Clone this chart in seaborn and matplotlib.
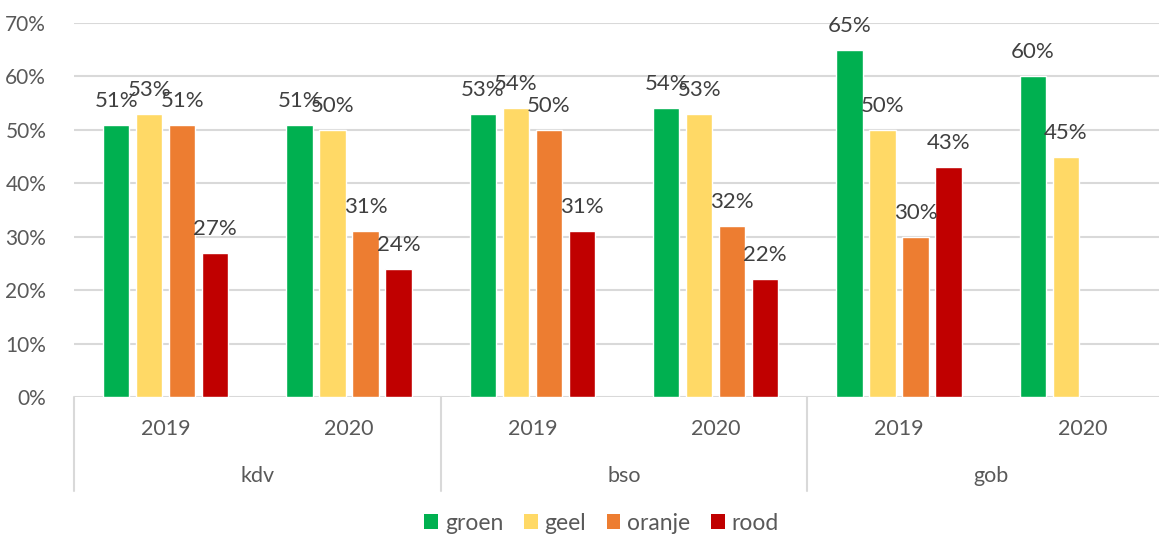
import numpy as np
import pandas as pd
import matplotlib
matplotlib.use("Agg")
import matplotlib.pyplot as plt
import matplotlib.transforms as mtransforms
from matplotlib.patches import Patch
import seaborn as sns

# ---- data ----
groups = ["kdv", "kdv", "bso", "bso", "gob", "gob"]
years = ["2019", "2020", "2019", "2020", "2019", "2020"]
series = ["groen", "geel", "oranje", "rood"]
groen = [0.51, 0.51, 0.53, 0.54, 0.65, 0.60]
geel = [0.53, 0.50, 0.54, 0.53, 0.50, 0.45]
oranje = [0.51, 0.31, 0.50, 0.32, 0.30, np.nan]
rood = [0.27, 0.24, 0.31, 0.22, 0.43, np.nan]
colors = {"groen": "#00B050", "geel": "#FFD966", "oranje": "#ED7D31", "rood": "#C00000"}

cats = [f"{g} {y}" for g, y in zip(groups, years)]
rows = []
for name, vals in zip(series, [groen, geel, oranje, rood]):
    for c, v in zip(cats, vals):
        rows.append({"cat": c, "kleur": name, "waarde": v})
df = pd.DataFrame(rows)

sns.set_theme(style="white")
plt.rcParams["font.family"] = ["Lato", "DejaVu Sans"]

fig = plt.figure(figsize=(11.59, 5.37), dpi=100)
ax = fig.add_axes([74 / 1159, 140 / 537, 1100 / 1159, 374 / 537])

sns.barplot(data=df, x="cat", y="waarde", hue="kleur", order=cats,
            hue_order=series, palette=colors, width=0.72, gap=0.21,
            errorbar=None, ax=ax, saturation=1, legend=False)

ax.set_xlim(-0.5, len(cats) - 0.5)
ax.set_ylim(0, 0.7)
ax.set_yticks(np.arange(0, 0.71, 0.1))
ax.set_yticklabels([f"{int(round(t * 100))}%" for t in np.arange(0, 0.71, 0.1)])
ax.tick_params(axis="y", length=0, pad=20, labelsize=15, labelcolor="#595959")
ax.set_xticks([])
ax.set_xlabel("")
ax.set_ylabel("")
ax.grid(axis="y", color="#D9D9D9", linewidth=1.5)
ax.set_axisbelow(True)
for s in ax.spines.values():
    s.set_visible(False)

# data labels
for cont in ax.containers:
    for bar in cont:
        h = bar.get_height()
        if np.isfinite(h) and h > 0:
            ax.annotate(f"{int(round(h * 100))}%",
                        (bar.get_x() + bar.get_width() / 2, h),
                        xytext=(0, 24), textcoords="offset pixels",
                        ha="center", va="center", fontsize=16, color="#404040")

# multi-level category axis
trans = mtransforms.blended_transform_factory(ax.transData, ax.transAxes)
for i, y in enumerate(years):
    ax.text(i, -0.085, y, transform=trans, ha="center", va="center",
            fontsize=15.5, color="#595959")
uniq = list(dict.fromkeys(groups))
for gname in uniq:
    idx = [i for i, g in enumerate(groups) if g == gname]
    ax.text(np.mean(idx), -0.21, gname, transform=trans, ha="center", va="center",
            fontsize=15.5, color="#595959")
bounds = [-0.5] + [i + 0.5 for i in range(len(groups) - 1) if groups[i] != groups[i + 1]]
for b in bounds:
    ax.plot([b, b], [0, -0.25], transform=trans, color="#D9D9D9", lw=1.5,
            clip_on=False)

handles = [Patch(facecolor=colors[s], edgecolor="none", label=s) for s in series]
fig.legend(handles=handles, loc="lower center", ncol=4, frameon=False,
           fontsize=16.5, labelcolor="#595959", handlelength=0.6, handleheight=0.6,
           handletextpad=0.3, columnspacing=0.9, bbox_to_anchor=(0.519, -0.032))

fig.savefig("out.png", dpi=100)
